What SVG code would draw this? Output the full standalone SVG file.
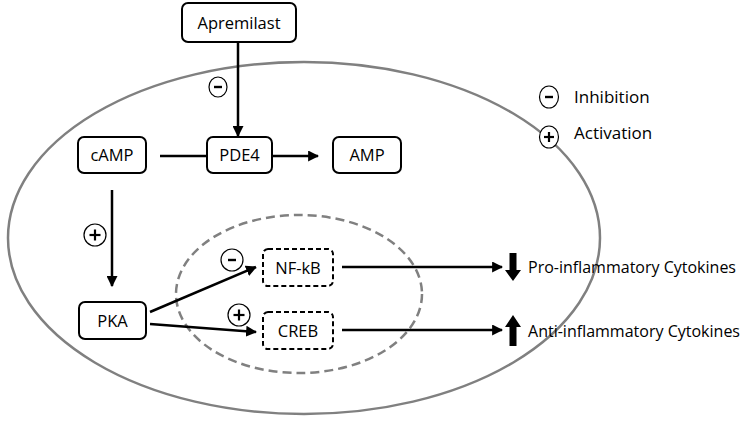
<svg xmlns="http://www.w3.org/2000/svg" width="750" height="422" viewBox="0 0 750 422">
<style>
.box{fill:#fff;stroke:#000;stroke-width:2}
.dbox{fill:#fff;stroke:#000;stroke-width:2;stroke-dasharray:5,3}
.lbl{font-family:"Open Sans","Noto Sans",sans-serif;font-size:16.5px;fill:#000;text-anchor:middle}
.txt{font-family:"Open Sans","Noto Sans",sans-serif;font-size:17px;fill:#000}
.cyt{font-family:"Open Sans","Noto Sans",sans-serif;font-size:16px;fill:#000}
.sym{fill:#fff;stroke:#000;stroke-width:1.2}
.edge{stroke:#000;stroke-width:2.5;fill:none}
</style>
<defs>
<marker id="ah" viewBox="0 0 10 10" refX="9" refY="5" markerWidth="4.4" markerHeight="4.4" orient="auto" markerUnits="strokeWidth">
<path d="M0,0 L10,5 L0,10 z" fill="#000"/>
</marker>
</defs>
<g id="cell">
<ellipse cx="304" cy="238" rx="296" ry="176" fill="none" stroke="#808080" stroke-width="2.5"/>
</g>
<g id="nucleus">
<ellipse cx="299" cy="294" rx="123" ry="79" fill="none" stroke="#808080" stroke-width="2.5" stroke-dasharray="9,5"/>
</g>
<g id="connectors">
<line class="edge" x1="238" y1="43" x2="238" y2="136" marker-end="url(#ah)"/>
<line class="edge" x1="160" y1="156" x2="207" y2="156"/>
<line class="edge" x1="272" y1="156" x2="318" y2="156" marker-end="url(#ah)"/>
<line class="edge" x1="112" y1="190" x2="112" y2="286" marker-end="url(#ah)"/>
<line class="edge" x1="150" y1="312" x2="256" y2="267" marker-end="url(#ah)"/>
<line class="edge" x1="150" y1="324" x2="256" y2="332" marker-end="url(#ah)"/>
<line class="edge" x1="342" y1="267" x2="502" y2="267" marker-end="url(#ah)"/>
<line class="edge" x1="342" y1="330" x2="502" y2="330" marker-end="url(#ah)"/>
</g>
<g id="Apremilast">
<rect class="box" x="182" y="3" width="114" height="39" rx="6"/>
<text class="lbl" x="239" y="28.5">Apremilast</text>
</g>
<g id="cAMP">
<rect class="box" x="78" y="137" width="68" height="36" rx="6"/>
<text class="lbl" x="112" y="161">cAMP</text>
</g>
<g id="PDE4">
<rect class="box" x="207" y="137" width="65" height="36" rx="6"/>
<text class="lbl" x="239.5" y="161">PDE4</text>
</g>
<g id="AMP">
<rect class="box" x="333" y="137" width="68" height="36" rx="6"/>
<text class="lbl" x="367" y="161">AMP</text>
</g>
<g id="PKA">
<rect class="box" x="79" y="302" width="67" height="37" rx="6"/>
<text class="lbl" x="112.5" y="326.5">PKA</text>
</g>
<g id="NF-kB">
<rect class="dbox" x="263" y="249" width="70" height="37" rx="5"/>
<text class="lbl" x="298" y="273.5">NF-kB</text>
</g>
<g id="CREB">
<rect class="dbox" x="263" y="312" width="70" height="37" rx="5"/>
<text class="lbl" x="298" y="336.5">CREB</text>
</g>
<g id="signs">
<ellipse class="sym" cx="218" cy="87" rx="9" ry="10"/>
<line x1="214" y1="87" x2="222" y2="87" stroke="#000" stroke-width="2.4"/>
<circle class="sym" cx="95" cy="235" r="11"/>
<line x1="89.5" y1="235" x2="100.5" y2="235" stroke="#000" stroke-width="2.2"/>
<line x1="95" y1="229.5" x2="95" y2="240.5" stroke="#000" stroke-width="2.2"/>
<circle class="sym" cx="232" cy="260" r="11"/>
<line x1="228" y1="260" x2="236" y2="260" stroke="#000" stroke-width="2.4"/>
<circle class="sym" cx="239" cy="315" r="11"/>
<line x1="233.5" y1="315" x2="244.5" y2="315" stroke="#000" stroke-width="2.2"/>
<line x1="239" y1="309.5" x2="239" y2="320.5" stroke="#000" stroke-width="2.2"/>
</g>
<g id="pro-inflammatory">
<path d="M509.5,253 H516.5 V270 H521 L513,281 L505,270 H509.5 Z" fill="#000"/>
<text class="cyt" x="528" y="273" textLength="208" lengthAdjust="spacingAndGlyphs">Pro-inflammatory Cytokines</text>
</g>
<g id="anti-inflammatory">
<path d="M509.5,346 H516.5 V327 H521 L513,315 L505,327 H509.5 Z" fill="#000"/>
<text class="cyt" x="528" y="337" textLength="212" lengthAdjust="spacingAndGlyphs">Anti-inflammatory Cytokines</text>
</g>
<g id="legend">
<ellipse class="sym" cx="549" cy="97" rx="9.5" ry="11"/>
<line x1="545" y1="97" x2="553" y2="97" stroke="#000" stroke-width="2.4"/>
<ellipse class="sym" cx="549" cy="137" rx="9.5" ry="11"/>
<line x1="544" y1="137" x2="554" y2="137" stroke="#000" stroke-width="2.2"/>
<line x1="549" y1="132" x2="549" y2="142" stroke="#000" stroke-width="2.2"/>
<text class="txt" x="574" y="103">Inhibition</text>
<text class="txt" x="574" y="139">Activation</text>
</g>
</svg>
